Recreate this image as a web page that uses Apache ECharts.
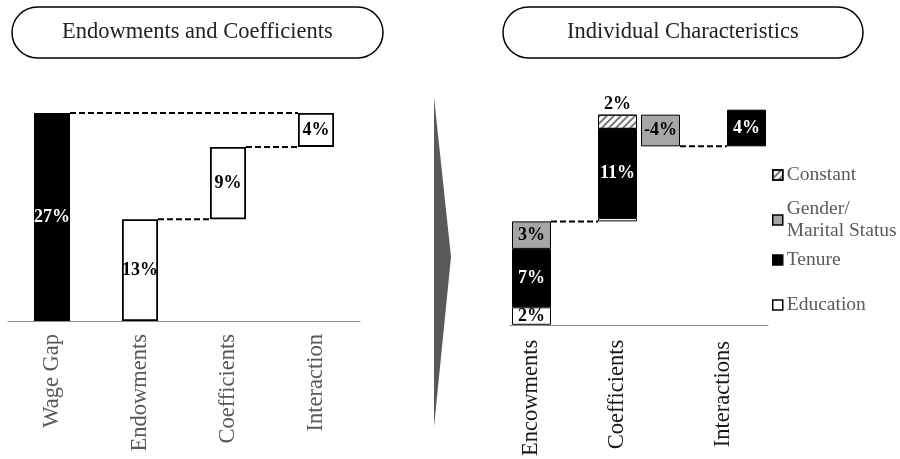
<!DOCTYPE html>
<html>
<head>
<meta charset="utf-8">
<script src="https://cdn.jsdelivr.net/npm/echarts@6/dist/echarts.min.js"></script>
<style>
  html, body { margin: 0; padding: 0; background: #fff; }
  #chart { width: 900px; height: 459px; }
</style>
</head>
<body>
<div id="chart"></div>
<script>
// Wage gap decomposition (percent of wages)
const gapCategories = ['Wage Gap', 'Endowments', 'Coefficients', 'Interaction'];
const wageGap = 27.0;
const gapParts = [13.2, 9.4, 4.4];          // endowments, coefficients, interaction

// Individual characteristics: slots on the category axis (blank slots are spacing)
const charSlots = ['Encowments', '', 'Coefficients', '', '', ''];
const interactionLabel = ['Interactions'];
const educationShare = [2.1, 0.4];          // endowments, coefficients
const tenureShare = [7.0, 10.7];            // endowments, coefficients
const genderShare = [3.3, -3.8];            // endowments, coefficients
const constantShare = [1.7];                // coefficients
const interactionShare = 4.4;

const FONT = "'Liberation Serif', 'DejaVu Serif', serif";
const GRAY = '#a6a6a6';
const fmt = p => Math.round(p.value) + '%';

// ---- left waterfall ----
const leftValues = [wageGap].concat(gapParts);
const leftBase = [0];
let run = 0;
gapParts.forEach(v => { leftBase.push(run); run += v; });
const leftLinks = [
  [0, 3, wageGap],
  [1, 2, leftBase[2]],
  [2, 3, leftBase[3]]
];

// ---- right waterfall ----
const N = charSlots.length;
// empty slots hold an invisible zero so every stack level stays numeric
const blank = () => Array.from({ length: N }, () => ({
  value: 0, itemStyle: { color: 'transparent', borderWidth: 0 }, label: { show: false }
}));
const endowTotal = educationShare[0] + tenureShare[0] + genderShare[0];
const coefTop = endowTotal + educationShare[1] + tenureShare[1] + constantShare[0];
const genderBottom = coefTop + genderShare[1];

const rBase = blank(); rBase[2] = endowTotal; rBase[3] = coefTop; rBase[5] = genderBottom;
const rEdu = blank(); rEdu[0] = educationShare[0]; rEdu[2] = { value: educationShare[1], label: { show: false } };
const rTen = blank(); rTen[0] = tenureShare[0]; rTen[2] = tenureShare[1];
const rGen = blank(); rGen[0] = genderShare[0]; rGen[3] = genderShare[1];
const rCon = blank(); rCon[2] = constantShare[0];
const rInt = blank(); rInt[5] = interactionShare;
const rightLinks = [
  [0, 2, endowTotal],
  [3, 5, genderBottom]
];

function linkSeries(xi, yi, links, halfW) {
  return {
    type: 'custom',
    xAxisIndex: xi, yAxisIndex: yi,
    encode: { x: [0, 1], y: 2 },
    z: 5,
    silent: true,
    data: links,
    renderItem: (params, api) => {
      const y = api.value(2);
      const a = api.coord([api.value(0), y]);
      const b = api.coord([api.value(1), y]);
      return {
        type: 'line',
        shape: { x1: a[0] + halfW, y1: a[1], x2: b[0] - halfW, y2: b[1] },
        style: { stroke: '#000', lineWidth: 2, lineDash: [6, 3] }
      };
    }
  };
}

const boldLabel = (color, pos) => ({
  show: true, position: pos || 'inside', formatter: fmt,
  color: color, fontFamily: FONT, fontWeight: 'bold', fontSize: 18
});

const segStyle = (color) => ({ color: color, borderColor: '#000', borderWidth: 1 });

const rightStack = (name, data, style, label) => ({
  name: name, type: 'bar', xAxisIndex: 1, yAxisIndex: 1,
  stack: 'chars', stackStrategy: 'all', barWidth: 39,
  data: data, itemStyle: style, label: label
});

const legendText = (pad) => ({
  fontFamily: FONT, fontSize: 19.5, color: '#595959', lineHeight: 22, padding: pad
});
const legendBase = (name, top, pad) => ({
  data: [name], left: 772, top: top, padding: 0,
  orient: 'vertical', icon: 'rect', itemWidth: 10, itemHeight: 10, itemGap: 0,
  selectedMode: false,
  itemStyle: { borderColor: '#000', borderWidth: 1.5 },
  textStyle: legendText(pad || [0, 0, 0, -1])
});

const axisLabelStyle = (color, margin) => ({
  rotate: 90, interval: 0, margin: margin, color: color, fontFamily: FONT, fontSize: 22.5
});

const chart = echarts.init(document.getElementById('chart'), null, { renderer: 'canvas' });
chart.setOption({
  animation: false,
  backgroundColor: '#fff',
  title: [
    {
      text: 'Endowments and Coefficients', left: 12, top: 7,
      padding: [14, 50, 14, 50], borderColor: '#000', borderWidth: 1.5, borderRadius: 26,
      textStyle: { fontFamily: FONT, fontSize: 22.5, fontWeight: 'normal', color: '#222' }
    },
    {
      text: 'Individual Characteristics', left: 503, top: 7,
      padding: [14, 64, 14, 64], borderColor: '#000', borderWidth: 1.5, borderRadius: 26,
      textStyle: { fontFamily: FONT, fontSize: 22.5, fontWeight: 'normal', color: '#222' }
    }
  ],
  legend: [
    legendBase('Constant', 164),
    legendBase('Gender/\nMarital Status', 187, [22, 0, 0, -1]),
    legendBase('Tenure', 249),
    legendBase('Education', 294)
  ],
  graphic: [
    {
      type: 'polygon', silent: true,
      shape: { points: [[434, 97], [451, 257], [434, 427]] },
      style: { fill: '#595959' }
    }
  ],
  grid: [
    { left: 8, width: 352, top: 113, height: 208 },
    { left: 510, width: 258, top: 108, height: 218 },
    { left: 703.5, width: 39, top: 108, height: 218 }
  ],
  xAxis: [
    {
      type: 'category', gridIndex: 0, data: gapCategories,
      axisLine: { lineStyle: { color: '#8c8c8c', width: 1 } },
      axisTick: { show: false },
      axisLabel: axisLabelStyle('#595959', 13)
    },
    {
      type: 'category', gridIndex: 1, data: charSlots,
      axisLine: { lineStyle: { color: '#8c8c8c', width: 1 } },
      axisTick: { show: false },
      axisLabel: axisLabelStyle('#1a1a1a', 15)
    },
    {
      type: 'category', gridIndex: 2, data: interactionLabel,
      axisLine: { show: false },
      axisTick: { show: false },
      axisLabel: axisLabelStyle('#1a1a1a', 15)
    }
  ],
  yAxis: [
    { type: 'value', gridIndex: 0, min: 0, max: 27, show: false, splitLine: { show: false } },
    { type: 'value', gridIndex: 1, min: 0, max: 26, show: false, splitLine: { show: false } },
    { type: 'value', gridIndex: 2, min: 0, max: 26, show: false, splitLine: { show: false } }
  ],
  series: [
    {
      type: 'bar', xAxisIndex: 0, yAxisIndex: 0, stack: 'gap', barWidth: 36,
      data: leftBase, itemStyle: { color: 'transparent' }, silent: true
    },
    {
      name: 'Wage gap', type: 'bar', xAxisIndex: 0, yAxisIndex: 0, stack: 'gap', barWidth: 36,
      data: leftValues.map((v, i) => i === 0
        ? { value: v, itemStyle: { color: '#000', borderColor: '#000' }, label: { color: '#fff' } }
        : v),
      itemStyle: { color: '#fff', borderColor: '#000', borderWidth: 1.8 },
      label: boldLabel('#000')
    },
    linkSeries(0, 0, leftLinks, 18),

    rightStack('base', rBase, { color: 'transparent' }, { show: false }),
    rightStack('Education', rEdu, segStyle('#fff'), boldLabel('#000')),
    rightStack('Tenure', rTen, segStyle('#000'), boldLabel('#fff')),
    rightStack('Gender/\nMarital Status', rGen, segStyle(GRAY), boldLabel('#000')),
    rightStack('Constant', rCon, {
      color: '#fff', borderColor: '#000', borderWidth: 1,
      decal: { symbol: 'rect', symbolSize: 1, dashArrayX: [1, 0], dashArrayY: [2, 3], rotation: -Math.PI / 4, color: '#777' }
    }, Object.assign(boldLabel('#000', 'top'), { distance: 1 })),
    rightStack('Interactions', rInt, segStyle('#000'), boldLabel('#fff')),
    linkSeries(1, 1, rightLinks, 19.5)
  ]
});
</script>
</body>
</html>
